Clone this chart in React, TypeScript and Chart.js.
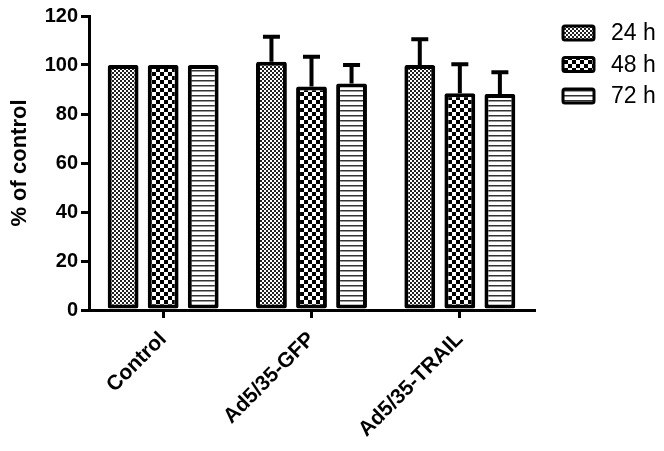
import React, { useEffect, useRef } from "react";
import { Chart, registerables } from "chart.js";

Chart.register(...registerables);

const categories = ["Control", "Ad5/35-GFP", "Ad5/35-TRAIL"];
const seriesLabels = ["24 h", "48 h", "72 h"];
const values24 = [100, 101.3, 100];
const values48 = [100, 91.2, 88.5];
const values72 = [100, 92.5, 88.2];
const errors24 = [0, 10.2, 10.5];
const errors48 = [0, 12.2, 11.8];
const errors72 = [0, 7.5, 8.8];
const yTicks = [0, 20, 40, 60, 80, 100, 120];

const FONT = "'Liberation Sans', Arial, Helvetica, sans-serif";

function makePattern(kind: string): CanvasPattern | string {
  const c = document.createElement("canvas");
  const ctx = c.getContext("2d");
  if (!ctx) return "#888";
  if (kind === "fine") {
    c.width = 4;
    c.height = 4;
    ctx.fillStyle = "#fff";
    ctx.fillRect(0, 0, 4, 4);
    ctx.fillStyle = "#222";
    ctx.fillRect(0, 0, 2, 2);
    ctx.fillRect(2, 2, 2, 2);
  } else if (kind === "checker") {
    c.width = 8;
    c.height = 8;
    ctx.fillStyle = "#fff";
    ctx.fillRect(0, 0, 8, 8);
    ctx.fillStyle = "#000";
    ctx.fillRect(0, 0, 4, 4);
    ctx.fillRect(4, 4, 4, 4);
  } else {
    c.width = 4;
    c.height = 5;
    ctx.fillStyle = "#fff";
    ctx.fillRect(0, 0, 4, 5);
    ctx.fillStyle = "#333";
    ctx.fillRect(0, 0, 4, 1.5);
  }
  const p = ctx.createPattern(c, "repeat");
  return p || "#888";
}

export default function App() {
  const ref = useRef<HTMLCanvasElement | null>(null);

  useEffect(() => {
    if (!ref.current) return;
    const patterns = [makePattern("fine"), makePattern("checker"), makePattern("stripes")];
    const vals = [values24, values48, values72];
    const errs = [errors24, errors48, errors72];

    const errorBars = {
      id: "errorBars",
      afterDatasetsDraw(chart: any) {
        const ctx = chart.ctx;
        const yScale = chart.scales.y;
        ctx.save();
        ctx.strokeStyle = "#000";
        ctx.lineWidth = 4;
        ctx.lineCap = "butt";
        chart.data.datasets.forEach((ds: any, di: number) => {
          const meta = chart.getDatasetMeta(di);
          meta.data.forEach((bar: any, i: number) => {
            const e = errs[di][i];
            if (!e) return;
            const yTop = yScale.getPixelForValue(ds.data[i] + e);
            ctx.beginPath();
            ctx.moveTo(bar.x, bar.y);
            ctx.lineTo(bar.x, yTop);
            ctx.moveTo(bar.x - 8.5, yTop);
            ctx.lineTo(bar.x + 8.5, yTop);
            ctx.stroke();
          });
        });
        ctx.restore();
      },
    };

    const legendPlugin = {
      id: "customLegend",
      afterDraw(chart: any) {
        const ctx = chart.ctx;
        ctx.save();
        seriesLabels.forEach((lab, i) => {
          const cy = 33 + i * 31.5;
          const x = 563;
          const w = 31;
          const h = 14;
          ctx.beginPath();
          if (ctx.roundRect) ctx.roundRect(x, cy - h / 2, w, h, 2);
          else ctx.rect(x, cy - h / 2, w, h);
          ctx.fillStyle = patterns[i];
          ctx.fill();
          ctx.lineWidth = 3;
          ctx.strokeStyle = "#000";
          ctx.stroke();
          ctx.fillStyle = "#000";
          ctx.font = `23px ${FONT}`;
          ctx.textAlign = "left";
          ctx.textBaseline = "middle";
          ctx.fillText(lab, 611, cy + 1);
        });
        ctx.restore();
      },
    };

    const chart = new Chart(ref.current, {
      type: "bar",
      data: {
        labels: categories,
        datasets: vals.map((v, i) => ({
          label: seriesLabels[i],
          data: v,
          backgroundColor: patterns[i] as any,
          borderColor: "#000",
          borderWidth: 4,
          borderSkipped: false,
          borderRadius: 2,
          categoryPercentage: 0.81,
          barPercentage: 0.77,
        })),
      },
      options: {
        animation: false,
        responsive: false,
        maintainAspectRatio: false,
        layout: { padding: { top: 16, right: 130, left: 0, bottom: 0 } },
        plugins: { legend: { display: false }, tooltip: { enabled: false } },
        scales: {
          x: {
            offset: true,
            grid: {
              display: true,
              drawOnChartArea: false,
              offset: false,
              tickLength: 8,
              lineWidth: 3,
              color: "#000",
            },
            border: { display: true, color: "#000", width: 3 },
            ticks: {
              color: "#000",
              font: { family: FONT, size: 21, weight: "bold" },
              minRotation: 45,
              maxRotation: 45,
              padding: 9,
            },
            afterFit(scale: any) {
              scale.height = 141;
            },
          },
          y: {
            min: 0,
            max: 120,
            afterBuildTicks(scale: any) {
              scale.ticks = yTicks.map((v) => ({ value: v }));
            },
            grid: {
              display: true,
              drawOnChartArea: false,
              tickLength: 8,
              lineWidth: 3,
              color: "#000",
            },
            border: { display: true, color: "#000", width: 3 },
            ticks: {
              color: "#000",
              font: { family: FONT, size: 20, weight: "bold" },
              padding: 3,
            },
            title: {
              display: true,
              text: "% of control",
              color: "#000",
              font: { family: FONT, size: 22, weight: "bold" },
              padding: { top: 7, bottom: 0 },
            },
            afterFit(scale: any) {
              scale.width = 89;
            },
          },
        },
      },
      plugins: [errorBars, legendPlugin],
    });
    return () => chart.destroy();
  }, []);

  return (
    <div style={{ position: "fixed", left: 0, top: 0, width: 664, height: 451, background: "#fff" }}>
      <canvas ref={ref} width={664} height={451} style={{ display: "block" }} />
    </div>
  );
}
